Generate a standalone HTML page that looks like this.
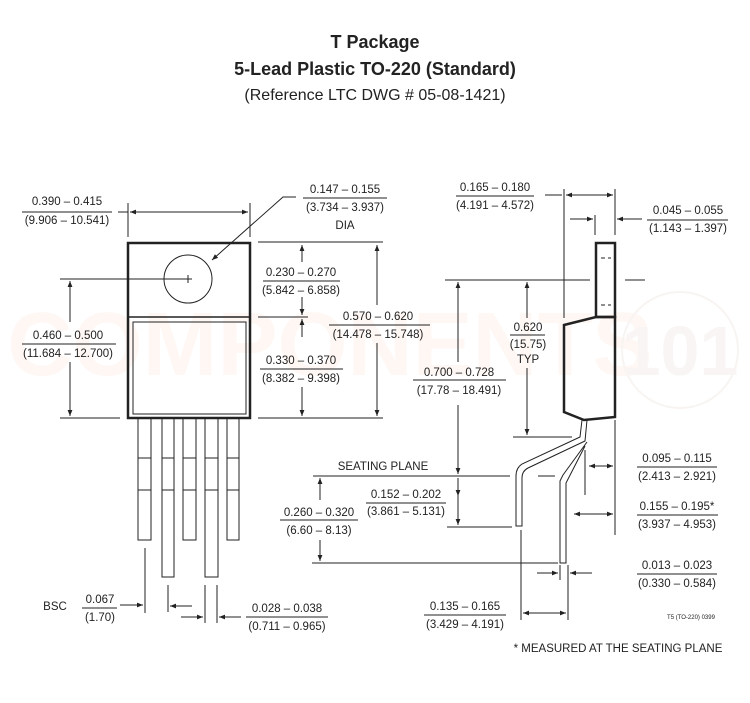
<!DOCTYPE html>
<html><head><meta charset="utf-8"><style>
html,body{margin:0;padding:0;background:#fff;}
svg{display:block;font-family:"Liberation Sans",sans-serif;}
text{fill:#222;font-size:11.5px;}
.t{text-anchor:middle;}
</style></head><body>
<svg width="750" height="703" viewBox="0 0 750 703" xmlns="http://www.w3.org/2000/svg">
<defs>
<marker id="a" viewBox="0 0 10 10" refX="10" refY="5" markerWidth="8" markerHeight="6" orient="auto-start-reverse"><path d="M0,1 L10,5 L0,9 z" fill="#222"/></marker>
</defs>
<text x="375" y="48" class="t" style="font-size:18px;font-weight:bold">T Package</text>
<text x="375" y="75" class="t" style="font-size:18px;font-weight:bold">5-Lead Plastic TO-220 (Standard)</text>
<text x="375" y="100" class="t" style="font-size:16px">(Reference LTC DWG # 05-08-1421)</text>
<text x="330" y="375" class="t" style="font-size:90px;font-weight:bold;fill:#fef7f4">COMPONENTS</text>
<circle cx="680" cy="350" r="58" fill="none" stroke="#f8f4f2" stroke-width="2"/>
<text x="680" y="375" class="t" style="font-size:70px;font-weight:bold;fill:#f8f5f4">101</text>

<g stroke="#222" fill="none" stroke-width="1">
<rect x="128" y="243" width="122" height="175" stroke-width="2.5"/>
<line x1="128" y1="317" x2="250" y2="317" stroke-width="1.5"/>
<rect x="133" y="322" width="113" height="92"/>
<circle cx="188" cy="279" r="24"/>
<line x1="60" y1="279" x2="192" y2="279"/><line x1="188" y1="275" x2="188" y2="283"/>
<rect x="138" y="418" width="13" height="122"/>
<rect x="162" y="418" width="12" height="159"/>
<rect x="183" y="418" width="13" height="122"/>
<rect x="205" y="418" width="13" height="159"/>
<rect x="227" y="418" width="12" height="122"/>
<path d="M138 458h13M162 458h12M183 458h13M205 458h13M227 458h12M138 490h13M162 490h12M183 490h13M205 490h13M227 490h12"/>
<line x1="128" y1="203" x2="128" y2="237"/><line x1="250" y1="203" x2="250" y2="237"/>
<line x1="118" y1="212" x2="128" y2="212"/>
<line x1="130" y1="212" x2="248" y2="212" marker-start="url(#a)" marker-end="url(#a)"/>
<line x1="22" y1="212" x2="112" y2="212"/>
<polyline points="296,197 283,197 212,260" marker-end="url(#a)"/>
<line x1="303" y1="198" x2="387" y2="198"/>
<line x1="258" y1="242" x2="383" y2="242"/><line x1="258" y1="317" x2="308" y2="317"/><line x1="258" y1="418" x2="383" y2="418"/>
<line x1="302" y1="262" x2="302" y2="245" marker-end="url(#a)"/><line x1="302" y1="297" x2="302" y2="315" marker-end="url(#a)"/>
<line x1="302" y1="337" x2="302" y2="319" marker-end="url(#a)"/><line x1="302" y1="387" x2="302" y2="416" marker-end="url(#a)"/>
<line x1="377" y1="305" x2="377" y2="245" marker-end="url(#a)"/><line x1="377" y1="343" x2="377" y2="416" marker-end="url(#a)"/>
<line x1="263" y1="281" x2="340" y2="281"/><line x1="260" y1="369" x2="343" y2="369"/><line x1="329" y1="325" x2="430" y2="325"/>
<line x1="70" y1="322" x2="70" y2="281" marker-end="url(#a)"/><line x1="70" y1="362" x2="70" y2="416" marker-end="url(#a)"/>
<line x1="60" y1="418" x2="120" y2="418"/><line x1="22" y1="344" x2="116" y2="344"/>
<line x1="145" y1="548" x2="145" y2="613"/>
<line x1="120" y1="605" x2="143" y2="605" marker-end="url(#a)"/>
<line x1="82" y1="608" x2="117" y2="608"/>
<line x1="168" y1="585" x2="168" y2="612"/><line x1="192" y1="606" x2="170" y2="606" marker-end="url(#a)"/>
<line x1="205" y1="585" x2="205" y2="623"/><line x1="217" y1="585" x2="217" y2="623"/>
<line x1="181" y1="617" x2="203" y2="617" marker-end="url(#a)"/><line x1="241" y1="617" x2="219" y2="617" marker-end="url(#a)"/>
<line x1="246" y1="617" x2="328" y2="617"/>

<rect x="596" y="243" width="19" height="74" stroke-width="2.5"/>
<path d="M601 258h10M601 305h10" stroke-dasharray="4,3"/>
<path d="M564 325 L596 317 L615 317 L615 417 L584 420 L564 412 Z" stroke-width="2.5"/>
<line x1="564" y1="189" x2="564" y2="318"/><line x1="615" y1="189" x2="615" y2="235"/>
<line x1="545" y1="195" x2="562" y2="195"/>
<line x1="566" y1="195" x2="613" y2="195" marker-start="url(#a)" marker-end="url(#a)"/>
<line x1="456" y1="196" x2="534" y2="196"/>
<line x1="595" y1="215" x2="595" y2="235"/>
<line x1="570" y1="219" x2="593" y2="219" marker-end="url(#a)"/><line x1="642" y1="219" x2="617" y2="219" marker-end="url(#a)"/>
<line x1="647" y1="220" x2="728" y2="220"/>
<line x1="445" y1="280" x2="590" y2="280"/><line x1="625" y1="280" x2="645" y2="280"/>
<line x1="458" y1="362" x2="458" y2="282" marker-end="url(#a)"/><line x1="458" y1="405" x2="458" y2="474" marker-end="url(#a)"/>
<line x1="413" y1="380" x2="506" y2="380"/>
<line x1="527" y1="318" x2="527" y2="282" marker-end="url(#a)"/><line x1="527" y1="368" x2="527" y2="435" marker-end="url(#a)"/>
<line x1="510" y1="335" x2="545" y2="335"/>
<line x1="513" y1="437" x2="572" y2="437"/>
<path d="M582 420 L580 437 L522 464 Q516 468 516 476 L516 526 L522 526 L522 478 Q522 471 528 468 L585 441 L587 420"/>
<path d="M587 442 L563 475 L560 481 L560 563 L566 563 L566 483 L585 446"/>
<line x1="313" y1="476" x2="510" y2="476"/><line x1="538" y1="476" x2="555" y2="476"/>
<line x1="320" y1="500" x2="320" y2="478" marker-end="url(#a)"/><line x1="320" y1="540" x2="320" y2="561" marker-end="url(#a)"/>
<line x1="280" y1="520" x2="358" y2="520"/>
<line x1="312" y1="563" x2="558" y2="563"/>
<line x1="366" y1="503" x2="446" y2="503"/>
<line x1="458" y1="496" x2="458" y2="478" marker-start="url(#a)"/><line x1="458" y1="496" x2="458" y2="525" marker-end="url(#a)"/>
<line x1="447" y1="527" x2="512" y2="527"/>
<line x1="585" y1="450" x2="585" y2="495"/><line x1="615" y1="420" x2="615" y2="535"/>
<line x1="589" y1="466" x2="613" y2="466" marker-start="url(#a)" marker-end="url(#a)"/>
<line x1="637" y1="467" x2="717" y2="467"/>
<line x1="574" y1="514" x2="613" y2="514" marker-start="url(#a)" marker-end="url(#a)"/>
<line x1="637" y1="515" x2="718" y2="515"/>
<line x1="560" y1="565" x2="560" y2="580"/><line x1="568" y1="565" x2="568" y2="620"/>
<line x1="537" y1="573" x2="558" y2="573" marker-end="url(#a)"/><line x1="592" y1="573" x2="570" y2="573" marker-end="url(#a)"/>
<line x1="637" y1="574" x2="717" y2="574"/>
<line x1="521" y1="530" x2="521" y2="620"/>
<line x1="523" y1="613" x2="566" y2="613" marker-start="url(#a)" marker-end="url(#a)"/>
<line x1="424" y1="615" x2="506" y2="615"/>
</g>

<g>
<text x="67" y="205" class="t">0.390 – 0.415</text><text x="67" y="224" class="t">(9.906 – 10.541)</text>
<text x="345" y="193" class="t">0.147 – 0.155</text><text x="345" y="211" class="t">(3.734 – 3.937)</text><text x="345" y="229" class="t">DIA</text>
<text x="301" y="276" class="t">0.230 – 0.270</text><text x="301" y="294" class="t">(5.842 – 6.858)</text>
<text x="301" y="364" class="t">0.330 – 0.370</text><text x="301" y="382" class="t">(8.382 – 9.398)</text>
<text x="378" y="320" class="t">0.570 – 0.620</text><text x="378" y="338" class="t">(14.478 – 15.748)</text>
<text x="68" y="339" class="t">0.460 – 0.500</text><text x="68" y="357" class="t">(11.684 – 12.700)</text>
<text x="55" y="610" class="t">BSC</text><text x="100" y="603" class="t">0.067</text><text x="100" y="621" class="t">(1.70)</text>
<text x="287" y="612" class="t">0.028 – 0.038</text><text x="287" y="630" class="t">(0.711 – 0.965)</text>
<text x="495" y="191" class="t">0.165 – 0.180</text><text x="495" y="209" class="t">(4.191 – 4.572)</text>
<text x="688" y="214" class="t">0.045 – 0.055</text><text x="688" y="232" class="t">(1.143 – 1.397)</text>
<text x="528" y="331" class="t">0.620</text><text x="528" y="348" class="t">(15.75)</text><text x="528" y="363" class="t">TYP</text>
<text x="459" y="376" class="t">0.700 – 0.728</text><text x="459" y="394" class="t">(17.78 – 18.491)</text>
<text x="383" y="470" class="t">SEATING PLANE</text>
<text x="406" y="498" class="t">0.152 – 0.202</text><text x="406" y="515" class="t">(3.861 – 5.131)</text>
<text x="319" y="516" class="t">0.260 – 0.320</text><text x="319" y="534" class="t">(6.60 – 8.13)</text>
<text x="677" y="462" class="t">0.095 – 0.115</text><text x="677" y="480" class="t">(2.413 – 2.921)</text>
<text x="677" y="510" class="t">0.155 – 0.195*</text><text x="677" y="528" class="t">(3.937 – 4.953)</text>
<text x="677" y="569" class="t">0.013 – 0.023</text><text x="677" y="587" class="t">(0.330 – 0.584)</text>
<text x="465" y="610" class="t">0.135 – 0.165</text><text x="465" y="628" class="t">(3.429 – 4.191)</text>
<text x="691" y="619" class="t" style="font-size:6px">T5 (TO-220) 0399</text>
<text x="618" y="652" class="t">* MEASURED AT THE SEATING PLANE</text>
</g>
</svg>
</body></html>
